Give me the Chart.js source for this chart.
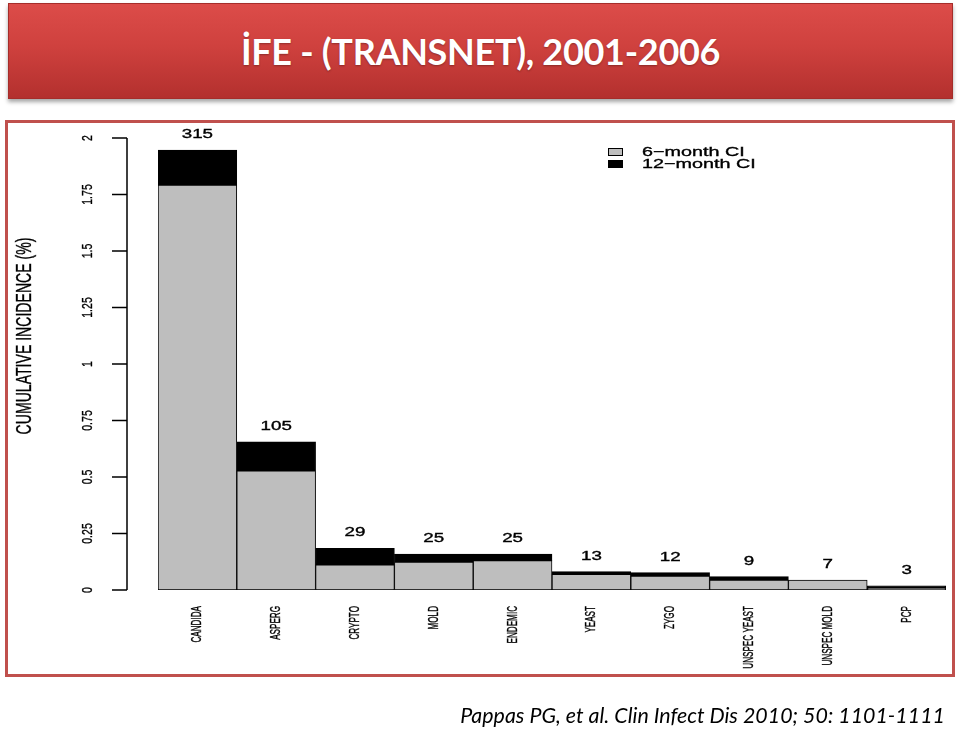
<!DOCTYPE html>
<html>
<head>
<meta charset="utf-8">
<title>IFE - TRANSNET</title>
<script src="https://cdn.jsdelivr.net/npm/chart.js@4.4.0/dist/chart.umd.min.js"></script>
<style>
    html, body { margin: 0; padding: 0; background: #fff; }
    body { width: 960px; height: 732px; position: relative; overflow: hidden; font-family: Lato, "Open Sans", sans-serif; }
    .banner {
        position: absolute; left: 8px; top: 3px; width: 945px; height: 96px; box-sizing: border-box;
        background: linear-gradient(#dc4c49 0%, #cf413e 45%, #b3302e 100%);
        border: 1px solid #a52d2a;
        box-shadow: 0 3px 4px rgba(0, 0, 0, .35);
        display: flex; align-items: center; justify-content: center;
        color: #fff; font-weight: bold; font-size: 36px; letter-spacing: -0.3px;
        text-shadow: 0 1px 2px rgba(0, 0, 0, .3);
    }
    .frame { position: absolute; left: 5px; top: 120px; width: 950px; height: 557px; box-sizing: border-box; border: 3px solid #c0504d; }
    .chart-wrap { position: absolute; left: 0; top: 0; width: 960px; height: 732px; }
    .cite { position: absolute; right: 15px; top: 702px; font-style: italic; font-size: 21.4px; color: #000; white-space: nowrap; }
</style>
</head>
<body>
<div class="banner">İFE - (TRANSNET), 2001-2006</div>
<div class="frame"></div>
<div class="chart-wrap"><canvas id="ciChart" width="960" height="732"></canvas></div>
<div class="cite">Pappas PG, et al. Clin Infect Dis 2010; 50: 1101-1111</div>

<script>
/* ── Data ── */
const categories = ['CANDIDA', 'ASPERG', 'CRYPTO', 'MOLD', 'ENDEMIC', 'YEAST', 'ZYGO', 'UNSPEC YEAST', 'UNSPEC MOLD', 'PCP'];
const sixMonthCI = [1.792, 0.527, 0.111, 0.124, 0.130, 0.069, 0.062, 0.044, 0.044, 0.009];
const twelveMonthCI = [1.947, 0.656, 0.184, 0.159, 0.159, 0.081, 0.077, 0.059, 0.044, 0.019];
const caseCounts = [315, 105, 29, 25, 25, 13, 12, 9, 7, 3];
const yTicks = [0, 0.25, 0.5, 0.75, 1, 1.25, 1.5, 1.75, 2];
const yTickLabels = ['0', '0.25', '0.5', '0.75', '1', '1.25', '1.5', '1.75', '2'];
const seriesNames = ['6\u2212month CI', '12\u2212month CI'];
const yTitle = 'CUMULATIVE INCIDENCE (%)';

const GRAY = '#bebebe';
const SANS = '"Liberation Sans", Arial, sans-serif';

// text helper: rotate, then stretch along the reading direction
function drawText(ctx, text, x, y, opts) {
    ctx.save();
    ctx.translate(x, y);
    if (opts.angle) ctx.rotate(opts.angle);
    ctx.scale(opts.sx || 1, 1);
    ctx.font = opts.font;
    ctx.fillStyle = '#000';
    ctx.textAlign = opts.align || 'center';
    ctx.textBaseline = opts.baseline || 'middle';
    ctx.fillText(text, 0, 0);
    // the source image is a blurry upscale, so thicken strokes a touch
    ctx.strokeStyle = '#000';
    ctx.lineWidth = 0.35;
    ctx.strokeText(text, 0, 0);
    ctx.restore();
}

/* ── R-style axes, labels and legend ── */
const rStyle = {
    id: 'rStyle',
    afterDatasetsDraw(chart) {
        const ctx = chart.ctx;
        const y = chart.scales.y;
        const x = chart.scales.x;
        const axisX = 127;
        const up = -Math.PI / 2;

        // y axis, detached from the bars
        ctx.save();
        ctx.strokeStyle = '#000';
        ctx.lineWidth = 1.5;
        ctx.beginPath();
        ctx.moveTo(axisX, y.getPixelForValue(yTicks[0]));
        ctx.lineTo(axisX, y.getPixelForValue(yTicks[yTicks.length - 1]));
        yTicks.forEach(v => {
            const py = y.getPixelForValue(v);
            ctx.moveTo(axisX, py);
            ctx.lineTo(axisX - 15, py);
        });
        ctx.stroke();
        ctx.restore();

        yTicks.forEach((v, i) => {
            drawText(ctx, yTickLabels[i], 88, y.getPixelForValue(v), { angle: up, sx: 0.75, font: '14px ' + SANS });
        });
        drawText(ctx, yTitle, 25, 336, { angle: up, sx: 0.64, font: '22px ' + SANS });

        // category labels
        categories.forEach((c, i) => {
            drawText(ctx, c, x.getPixelForValue(i), 606, { angle: up, sx: 0.56, align: 'right', font: '14.5px ' + SANS });
        });

        // counts above the bars
        caseCounts.forEach((n, i) => {
            const top = y.getPixelForValue(twelveMonthCI[i]);
            drawText(ctx, String(n), x.getPixelForValue(i), top - 12, { sx: 1.5, baseline: 'alphabetic', font: '12.5px ' + SANS });
        });

        // legend
        const boxes = [{ fill: GRAY, y: 148 }, { fill: '#000', y: 160 }];
        boxes.forEach((b, i) => {
            ctx.save();
            ctx.fillStyle = b.fill;
            ctx.strokeStyle = '#000';
            ctx.lineWidth = 1;
            ctx.fillRect(608.5, b.y + 0.5, 14, 7);
            ctx.strokeRect(608.5, b.y + 0.5, 14, 7);
            ctx.restore();
            drawText(ctx, seriesNames[i], 642, b.y + 4, { sx: 1.52, align: 'left', font: '13px ' + SANS });
        });
    }
};

new Chart(document.getElementById('ciChart'), {
    type: 'bar',
    data: {
        labels: categories,
        datasets: [
            {
                label: seriesNames[0],
                data: sixMonthCI,
                backgroundColor: GRAY,
                borderColor: '#000',
                borderWidth: 1,
                borderSkipped: false
            },
            {
                label: seriesNames[1],
                data: twelveMonthCI.map((v, i) => [sixMonthCI[i], v]),
                backgroundColor: '#000',
                borderColor: '#000',
                borderWidth: 1,
                borderSkipped: false
            }
        ]
    },
    options: {
        responsive: false,
        animation: false,
        events: [],
        layout: { padding: { left: 158, right: 14, top: 138, bottom: 142 } },
        datasets: { bar: { grouped: false, categoryPercentage: 1, barPercentage: 1 } },
        plugins: { legend: { display: false }, tooltip: { enabled: false }, title: { display: false } },
        scales: {
            x: { display: false },
            y: { display: false, min: 0, max: 2 }
        }
    },
    plugins: [rStyle]
});
</script>
</body>
</html>
